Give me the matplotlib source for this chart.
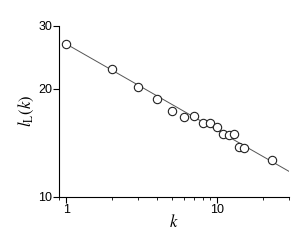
import numpy as np
import matplotlib
matplotlib.use("Agg")
import matplotlib.pyplot as plt
from matplotlib.ticker import LogLocator, FixedLocator, NullFormatter, NullLocator, FixedFormatter

k = [1, 2, 3, 4, 5, 6, 7, 8, 9, 10, 11, 12, 13, 14, 15, 23]
lk = [26.7, 22.8, 20.3, 18.75, 17.35, 16.7, 16.8, 16.1, 16.1, 15.7, 15.0, 14.9, 14.96, 13.77, 13.7, 12.67]
fit_amp = 26.7
fit_exp = -0.241
xticks = [1, 10]
yticks = [10, 20, 30]

plt.rcParams['mathtext.fontset'] = 'stix'
fig = plt.figure(figsize=(3.06, 2.49), dpi=100)
ax = fig.add_axes([0.194, 0.21, 0.751, 0.686])

kf = np.array([1.0, 30.0])
ax.plot(kf, fit_amp * kf ** fit_exp, color='#555555', lw=0.7, zorder=1)
ax.plot(k, lk, 'o', ms=6, mfc='white', mec='#222222', mew=0.8, zorder=2)

ax.set_xscale('log')
ax.set_yscale('log')
ax.set_xlim(0.9, 30)
ax.set_ylim(10, 30)
ax.xaxis.set_major_locator(FixedLocator(xticks))
ax.xaxis.set_major_formatter(FixedFormatter([str(v) for v in xticks]))
ax.xaxis.set_minor_locator(LogLocator(base=10, subs=np.arange(2, 10)))
ax.xaxis.set_minor_formatter(NullFormatter())
ax.yaxis.set_major_locator(FixedLocator(yticks))
ax.yaxis.set_major_formatter(FixedFormatter([str(v) for v in yticks]))
ax.yaxis.set_minor_locator(NullLocator())
ax.yaxis.set_minor_formatter(NullFormatter())

for s in ['top', 'right']:
    ax.spines[s].set_visible(False)
for s in ['left', 'bottom']:
    ax.spines[s].set_linewidth(0.8)
ax.tick_params(which='major', direction='out', length=4, width=0.8, labelsize=9, pad=1)
ax.tick_params(which='minor', direction='out', length=2, width=0.6)
for lab in ax.get_xticklabels() + ax.get_yticklabels():
    lab.set_family('Liberation Sans')

ax.set_xlabel(r'$k$', fontsize=12, labelpad=-2)
ax.set_ylabel(r'$l_{\mathrm{L}}(k)$', fontsize=12, labelpad=2)

fig.savefig('out.png', dpi=100)
